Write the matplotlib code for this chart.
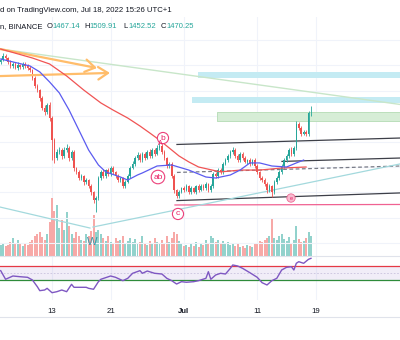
import numpy as np
import matplotlib.pyplot as plt
from matplotlib.lines import Line2D

plt.rcParams['font.family'] = ['Liberation Sans', 'DejaVu Sans']

# 8h candles, day numbers counted from Jun 1 (day 0)
first_day = 5.0
bar_step = 1 / 3

open_first = 1770
close = [
    1781, 1805, 1793, 1770, 1746, 1758, 1734, 1752, 1740, 1758,
    1746, 1734, 1722, 1675, 1628, 1604, 1557, 1498, 1475, 1516,
    1439, 1309, 1203, 1239, 1250, 1215, 1250, 1262, 1203, 1239,
    1144, 1121, 1085, 1097, 1062, 1073, 1038, 1003, 955, 967,
    1085, 1121, 1097, 1132, 1109, 1144, 1121, 1097, 1073, 1085,
    1038, 1062, 1097, 1144, 1168, 1203, 1221, 1191, 1227, 1203,
    1239, 1215, 1250, 1227, 1262, 1274, 1239, 1203, 1156, 1168,
    1097, 1014, 979, 1003, 1026, 1014, 1038, 1003, 1026, 1003,
    1038, 1014, 1038, 1026, 1050, 1014, 1038, 1109, 1097, 1132,
    1121, 1168, 1191, 1215, 1239, 1250, 1215, 1191, 1227, 1203,
    1180, 1191, 1168, 1191, 1156, 1121, 1085, 1073, 1050, 1014,
    1038, 1003, 1062, 1085, 1121, 1156, 1191, 1215, 1250, 1227,
    1262, 1404, 1380, 1345, 1357, 1345, 1467.14, 1470.25,
]
wick_up = [
    12, 18, 10, 8, 14, 9, 12, 15, 8, 11,
    10, 9, 12, 8, 10, 14, 9, 12, 18, 10,
    16, 12, 14, 20, 16, 12, 18, 22, 10, 14,
    12, 9, 10, 14, 8, 12, 9, 10, 8, 12,
    10, 12, 16, 9, 14, 10, 12, 8, 10, 9,
    8, 12, 10, 14, 16, 12, 18, 10, 14, 12,
    10, 16, 12, 10, 15, 18, 10, 12, 8, 10,
    14, 10, 8, 12, 9, 10, 12, 8, 10, 9,
    8, 10, 9, 12, 10, 8, 10, 14, 9, 12,
    10, 12, 14, 10, 12, 16, 10, 12, 9, 10,
    12, 9, 10, 8, 10, 9, 8, 10, 12, 9,
    10, 8, 14, 10, 12, 9, 14, 12, 10, 16,
    12, 18, 14, 12, 10, 12, 15, 39.66,
]
wick_dn = [
    10, 8, 12, 14, 9, 11, 8, 12, 10, 9,
    12, 10, 9, 14, 12, 10, 16, 12, 18, 14,
    20, 118, 30, 14, 12, 20, 10, 12, 18, 14,
    16, 12, 14, 10, 16, 12, 14, 18, 20, 70,
    10, 12, 14, 9, 12, 10, 14, 12, 10, 14,
    12, 10, 9, 10, 8, 12, 10, 14, 9, 12,
    8, 12, 10, 14, 9, 10, 12, 10, 14, 10,
    12, 18, 14, 10, 9, 12, 8, 14, 10, 9,
    10, 12, 8, 10, 9, 14, 10, 12, 10, 9,
    12, 10, 8, 10, 9, 12, 10, 14, 9, 10,
    9, 10, 12, 8, 10, 12, 14, 10, 12, 16,
    10, 30, 14, 10, 9, 12, 10, 9, 12, 10,
    10, 12, 10, 14, 9, 12, 10, 14.62,
]
volume = [
    11, 12, 10, 11, 14, 18, 13, 16, 12, 10,
    13, 11, 14, 16, 20, 22, 24, 19, 16, 22,
    34, 58, 45, 51, 28, 36, 26, 44, 30, 22,
    18, 24, 20, 16, 15, 22, 20, 25, 41, 24,
    26, 22, 18, 15, 20, 14, 12, 18, 15, 16,
    20, 13, 15, 18, 14, 17, 12, 14, 20, 13,
    11, 15, 12, 18, 14, 12, 16, 13, 20, 14,
    18, 24, 22, 15, 12, 10, 11, 9, 12, 10,
    14, 9, 12, 11, 16, 13, 20, 18, 14, 16,
    12, 15, 13, 14, 11, 13, 10, 12, 9, 10,
    8, 11, 10, 9, 12, 13, 15, 14, 16, 18,
    20, 38, 18, 16, 20, 22, 17, 15, 19, 13,
    16, 30, 17, 14, 15, 18, 24, 20,
]

# moving averages, read at candle indices
fast_idx = [0, 12, 16, 20, 24, 28, 32, 36, 40, 43, 49, 52, 56, 58, 64, 70,
            77, 84, 88, 94, 98, 102, 106, 111, 117, 121, 124]
fast_ma = [1787, 1746, 1711, 1652, 1587, 1486, 1368, 1250, 1162, 1121, 1091,
           1073, 1103, 1115, 1156, 1162, 1132, 1091, 1085, 1103, 1132, 1174,
           1174, 1156, 1150, 1174, 1191]
slow_idx = [0, 13, 20, 27, 34, 41, 46, 52, 57, 61, 65, 69, 73, 77, 81, 90,
            98, 106, 115, 125]
slow_ma = [1846, 1793, 1758, 1687, 1604, 1528, 1486, 1439, 1392, 1351, 1309,
           1262, 1215, 1180, 1150, 1121, 1132, 1132, 1144, 1150]

rsi_idx = [0, 2, 5, 8, 11, 13, 15, 16, 18, 19, 21, 23, 25, 27, 29, 30, 32, 35,
           36, 38, 40, 41, 45, 47, 50, 52, 54, 57, 58, 60, 63, 66, 68, 70, 72,
           74, 76, 79, 81, 84, 85, 86, 88, 90, 92, 94, 95, 97, 99, 102, 105,
           107, 109, 111, 113, 115, 117, 119, 120, 121, 122, 124, 126, 127]
rsi = [53.2, 41.4, 45.9, 44.9, 44.1, 40.4, 31.2, 25.8, 26.7, 29.0, 23.0, 24.4,
       26.7, 24.4, 34.5, 30.4, 30.4, 30.4, 29.0, 27.7, 38.1, 41.4, 45.9, 44.1,
       39.5, 42.7, 49.6, 53.2, 49.6, 52.7, 49.6, 48.6, 42.7, 39.5, 34.9, 38.1,
       37.3, 38.1, 39.5, 42.7, 51.8, 41.4, 47.3, 49.6, 48.6, 56.4, 61.0, 59.6,
       56.4, 50.4, 44.1, 36.7, 33.6, 39.5, 42.7, 54.1, 57.8, 58.6, 54.1, 63.3,
       65.5, 63.3, 68.8, 70.1]
rsi_upper, rsi_lower = 60, 40

tick_days = [12, 20, 30, 40, 48]
tick_labels = ['13', '21', 'Jul', '11', '19']

UP, DOWN = '#26a69a', '#ef5350'
W, H = 400, 340

close = np.array(close, float)
opens = np.r_[open_first, close[:-1]]
highs = np.maximum(opens, close) + np.array(wick_up)
lows = np.minimum(opens, close) - np.array(wick_dn)
x = first_day + np.arange(len(close)) * bar_step
rising = close >= opens
colors = np.where(rising, UP, DOWN)
vol_colors = np.where(rising, '#92d2cc', '#f7a9a7')

fig = plt.figure(figsize=(W / 100, H / 100), dpi=100)
fig.patch.set_facecolor('white')


def pane(top, bottom, **kw):
    return fig.add_axes([0, 1 - bottom / H, 1, (bottom - top) / H], **kw)


axv = pane(17, 256)
ax = pane(17, 256, sharex=axv)
ax.set_facecolor('none')
axr = pane(256, 300, sharex=axv)

xlim = (4.906, 59.48)
axv.set_xlim(*xlim)
axv.set_ylim(0, 239)
ax.set_ylim(625, 2035)
axr.set_ylim(13.0, 73.3)

for a in (axv, ax, axr):
    for s in a.spines.values():
        s.set_visible(False)
    a.tick_params(left=False, labelleft=False, bottom=False, labelbottom=False)

# grid
for d in tick_days:
    axv.axvline(d, color='#f0f3fa', lw=0.8, zorder=0)
    axr.axvline(d, color='#f0f3fa', lw=0.8, zorder=0)
for p in [1900, 1750, 1600, 1450, 1300, 1150, 1000, 850, 700]:
    ax.axhline(p, color='#f0f3fa', lw=0.8, zorder=0)

# volume
axv.bar(x, volume, width=0.27, color=vol_colors, linewidth=0)

# candles
ax.vlines(x, lows, highs, colors=colors, lw=0.6, zorder=3)
ax.bar(x, np.maximum(np.abs(close - opens), 3), bottom=np.minimum(opens, close),
       width=0.22, color=colors, linewidth=0, zorder=3)

# moving averages
ax.plot(first_day + np.array(slow_idx) * bar_step, slow_ma, color='#f05454', lw=0.9, zorder=4)
ax.plot(first_day + np.array(fast_idx) * bar_step, fast_ma, color='#5b5bf0', lw=0.9, zorder=4)

# drawings
ax.plot([4.5, 60], [1848.8, 1516], color='#c8e6c9', lw=1, zorder=2)
head = '->,head_length=0.7,head_width=0.45'
ax.annotate('', xy=(18.14, 1734), xytext=(4.5, 1849.4),
            arrowprops=dict(arrowstyle=head, color='#ffbd6b', lw=1.6, shrinkA=0, shrinkB=0))
ax.annotate('', xy=(19.91, 1705), xytext=(4.5, 1686),
            arrowprops=dict(arrowstyle=head, color='#ffbd6b', lw=1.6, shrinkA=0, shrinkB=0))

ax.fill_between([31.92, 60], 1675, 1711, color='#c4ebf3', lw=0, zorder=1)
ax.fill_between([31.10, 60], 1528, 1563, color='#c4ebf3', lw=0, zorder=1)
ax.fill_between([34.51, 60], 1421, 1475, color='#d6edd6', edgecolor='#b4dbb4', lw=0.6, zorder=1)

ax.plot([29.05, 59.48], [1283, 1321], color='#3d3f48', lw=0.9, zorder=2)
ax.plot([43.38, 59.48], [1183, 1203], color='#3d3f48', lw=0.9, zorder=2)
ax.plot([29.05, 59.48], [952, 997], color='#3d3f48', lw=0.9, zorder=2)
ax.plot([29.05, 59.48], [1118, 1156], color='#787b86', lw=0.9, ls=(0, (3, 2)), zorder=2)
ax.plot([28.78, 59.48], [926, 929], color='#f06292', lw=0.9, zorder=2)
ax.plot([4.5, 17.18], [918, 790], color='#a3d9dd', lw=0.9, zorder=2)
ax.plot([17.59, 59.48], [796, 1168], color='#a3d9dd', lw=0.9, zorder=2)

ax.text(17.45, 708, 'W', color='#3a98a8', fontsize=8, ha='center', va='center', zorder=6)
circ = dict(boxstyle='circle,pad=0.25', fc='white', ec='#ec407a', lw=0.8)
for d, p, s in [(27.14, 1321, 'b'), (26.46, 1091, 'ab'), (29.19, 873, 'c')]:
    ax.text(d, p, s, color='#e91e63', fontsize=6, ha='center', va='center', bbox=circ, zorder=6)
ax.text(26.73, 1290, 'A', color='#e91e63', fontsize=5, ha='center', va='center', zorder=6)
ax.text(44.61, 967, 'e', color='#e91e63', fontsize=4, ha='center', va='center', zorder=6,
        bbox=dict(boxstyle='circle,pad=0.3', fc='#f8bbd0', ec='#ec6b94', lw=0.6))

# RSI pane
axr.axhspan(rsi_lower, rsi_upper, color='#7e57c2', alpha=0.1, lw=0)
axr.axhline(rsi_upper, color='#e53945', lw=0.9)
axr.axhline(rsi_lower, color='#2e8b3a', lw=0.9)
axr.axhline(50, color='#c9c2dd', lw=0.6, ls=(0, (2, 2)))
axr.plot(first_day + np.array(rsi_idx) * bar_step, rsi, color='#7e57c2', lw=1)

axr.set_xticks(tick_days)
axr.set_xticklabels(tick_labels)
axr.tick_params(bottom=False, labelbottom=True, pad=2.5, labelsize=5.6, labelcolor='#131722')
for t in axr.get_xticklabels():
    if t.get_text() == 'Jul':
        t.set_fontweight('bold')

# pane borders
for yy in (256, 317):
    fig.add_artist(Line2D([0, 1], [1 - yy / H] * 2, color='#e0e3eb', lw=0.8))

# header
fig.text(0, 1 - 10 / H, 'd on TradingView.com, Jul 18, 2022 15:26 UTC+1',
         fontsize=5.6, color='#131722', va='center')
row = 1 - 27 / H
fig.text(0, row, 'n, BINANCE', fontsize=5.5, color='#131722', va='center')
val_color = UP if close[-1] >= opens[-1] else DOWN
for lx, lab, v in [(47, 'O', opens[-1]), (84, 'H', highs[-1]), (123, 'L', lows[-1]), (161, 'C', close[-1])]:
    fig.text(lx / W, row, lab, fontsize=5.5, color='#131722', va='center')
    fig.text((lx + 5) / W, row, f'{v:.2f}', fontsize=5.5, color=val_color, va='center')

fig.savefig('out.png', dpi=100)
